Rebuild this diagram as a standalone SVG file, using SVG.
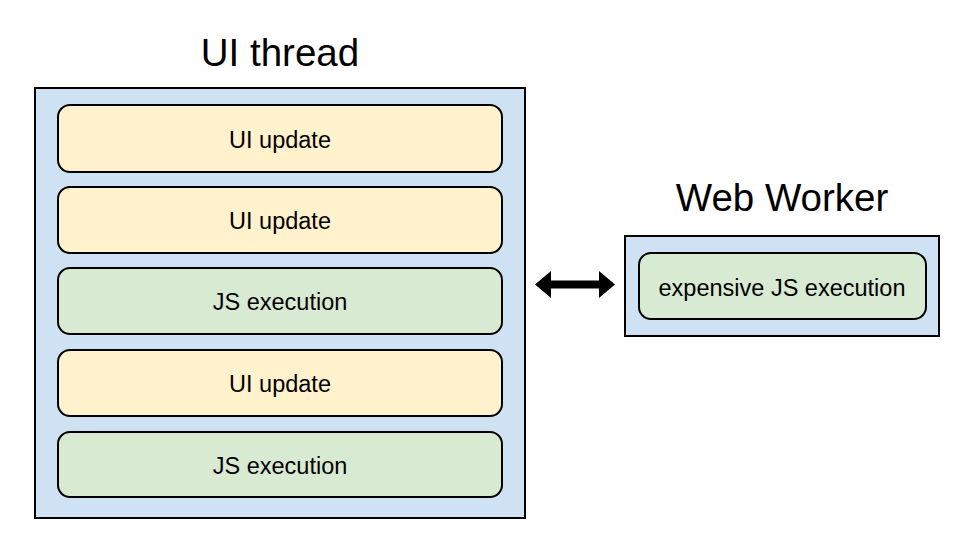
<svg xmlns="http://www.w3.org/2000/svg" width="960" height="540" viewBox="0 0 960 540">
<style>
.title{font-family:"Liberation Sans",Arial,sans-serif;font-size:38.5px;fill:#000;text-anchor:middle}
.lbl{font-family:"Liberation Sans",Arial,sans-serif;font-size:23.5px;fill:#000;text-anchor:middle}
.cont{fill:#cfe2f3;stroke:#000;stroke-width:2}
.ui{fill:#fff2cc;stroke:#000;stroke-width:2}
.js{fill:#d9ead3;stroke:#000;stroke-width:2}
</style>
<rect width="960" height="540" fill="#fff"/>
<g id="ui-thread">
<text class="title" x="280" y="66">UI thread</text>
<rect class="cont" x="35" y="88" width="490" height="430"/>
</g>
<g id="ui-update-1">
<rect class="ui" x="58" y="105" width="444" height="67" rx="12"/>
<text class="lbl" x="280" y="147.5">UI update</text>
</g>
<g id="ui-update-2">
<rect class="ui" x="58" y="187" width="444" height="66" rx="12"/>
<text class="lbl" x="280" y="229">UI update</text>
</g>
<g id="js-execution-1">
<rect class="js" x="58" y="268" width="444" height="66" rx="12"/>
<text class="lbl" x="280" y="310">JS execution</text>
</g>
<g id="ui-update-3">
<rect class="ui" x="58" y="350" width="444" height="66" rx="12"/>
<text class="lbl" x="280" y="392">UI update</text>
</g>
<g id="js-execution-2">
<rect class="js" x="58" y="432" width="444" height="65" rx="12"/>
<text class="lbl" x="280" y="473.5">JS execution</text>
</g>
<g id="web-worker">
<text class="title" x="782" y="211">Web Worker</text>
<rect class="cont" x="625" y="236" width="314" height="100"/>
</g>
<g id="expensive-js">
<rect class="js" x="639" y="253" width="287" height="66" rx="12"/>
<text class="lbl" x="782" y="296">expensive JS execution</text>
</g>
<g id="connectors">
<polygon points="535,284.5 551,271 551,280.5 599,280.5 599,271 615,284.5 599,298 599,288.5 551,288.5 551,298" fill="#000"/>
</g>
</svg>
